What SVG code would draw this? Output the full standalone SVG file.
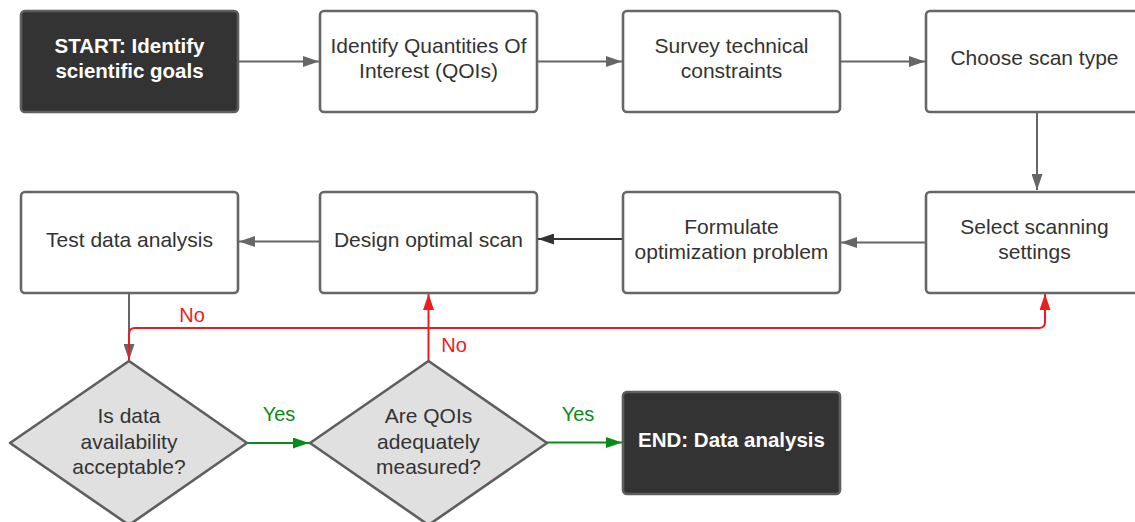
<svg xmlns="http://www.w3.org/2000/svg" width="1135" height="522" viewBox="0 0 1135 522">
<style>
.box{fill:#ffffff;stroke:#666666;stroke-width:2.6}
.dark{fill:#333333;stroke:#5e5e5e;stroke-width:2.6}
.dia{fill:#e0e0e0;stroke:#5e5e5e;stroke-width:2.6;stroke-linejoin:round}
.t{font-family:"Liberation Sans",Arial,sans-serif;font-size:21px;fill:#333333;text-anchor:middle}
.tb{font-family:"Liberation Sans",Arial,sans-serif;font-size:20.5px;font-weight:bold;fill:#ffffff;text-anchor:middle}
.lbl{font-family:"Liberation Sans",Arial,sans-serif;font-size:20px;text-anchor:middle}
.c{fill:none;stroke:#666666;stroke-width:2}
.cd{fill:none;stroke:#333333;stroke-width:2}
.cr{fill:none;stroke:#ee1c1c;stroke-width:2;stroke-linejoin:round}
.cg{fill:none;stroke:#0a8a17;stroke-width:2}
</style>
<defs>
<marker id="ag" viewBox="0 0 16 11" refX="16" refY="5.5" markerWidth="16" markerHeight="11" markerUnits="userSpaceOnUse" orient="auto"><path d="M0,0 L16,5.5 L0,11 Z" fill="#666666"/></marker>
<marker id="ad" viewBox="0 0 16 11" refX="16" refY="5.5" markerWidth="16" markerHeight="11" markerUnits="userSpaceOnUse" orient="auto"><path d="M0,0 L16,5.5 L0,11 Z" fill="#333333"/></marker>
<marker id="ar" viewBox="0 0 16 11" refX="16" refY="5.5" markerWidth="16" markerHeight="11" markerUnits="userSpaceOnUse" orient="auto"><path d="M0,0 L16,5.5 L0,11 Z" fill="#ee1c1c"/></marker>
<marker id="agr" viewBox="0 0 16 11" refX="16" refY="5.5" markerWidth="16" markerHeight="11" markerUnits="userSpaceOnUse" orient="auto"><path d="M0,0 L16,5.5 L0,11 Z" fill="#0a8a17"/></marker>
</defs>
<rect width="1135" height="522" fill="#ffffff"/>
<g id="connectors">
<path class="c" d="M238,61.5 L319,61.5" marker-end="url(#ag)"/>
<path class="c" d="M537,61.5 L622,61.5" marker-end="url(#ag)"/>
<path class="c" d="M840,61.5 L925,61.5" marker-end="url(#ag)"/>
<path class="c" d="M1037,112 L1037,190" marker-end="url(#ag)"/>
<path class="c" d="M926,242.5 L841,242.5" marker-end="url(#ag)"/>
<path class="cd" d="M623,239 L538,239" marker-end="url(#ad)"/>
<path class="c" d="M320,241.5 L239,241.5" marker-end="url(#ag)"/>
<path class="c" d="M129,293 L129,360" marker-end="url(#ag)"/>
<path class="cr" d="M129,361 L129,334 Q129,328 135,328 L1039,328 Q1045,328 1045,322 L1045,294" marker-end="url(#ar)"/>
<path class="cr" d="M428.5,361 L428.5,294" marker-end="url(#ar)"/>
<path class="cg" d="M247,443 L309,443" marker-end="url(#agr)"/>
<path class="cg" d="M547,442.5 L622,442.5" marker-end="url(#agr)"/>
<text class="lbl" x="192" y="322" fill="#ee1c1c">No</text>
<text class="lbl" x="454" y="352" fill="#ee1c1c">No</text>
<text class="lbl" x="279" y="421" fill="#0a8a17">Yes</text>
<text class="lbl" x="578" y="421" fill="#0a8a17">Yes</text>
</g>
<g id="start">
<rect class="dark" x="21" y="11" width="217" height="101" rx="4"/>
<text class="tb" x="129.5" y="53">START: Identify</text>
<text class="tb" x="129.5" y="78">scientific goals</text>
</g>
<g id="qois">
<rect class="box" x="320" y="11" width="217" height="101" rx="4"/>
<text class="t" x="428.5" y="53">Identify Quantities Of</text>
<text class="t" x="428.5" y="78">Interest (QOIs)</text>
</g>
<g id="survey">
<rect class="box" x="623" y="11" width="217" height="101" rx="4"/>
<text class="t" x="731.5" y="53">Survey technical</text>
<text class="t" x="731.5" y="78">constraints</text>
</g>
<g id="choose">
<rect class="box" x="926" y="11" width="217" height="101" rx="4"/>
<text class="t" x="1034.5" y="65">Choose scan type</text>
</g>
<g id="select">
<rect class="box" x="926" y="192" width="217" height="101" rx="4"/>
<text class="t" x="1034.5" y="234">Select scanning</text>
<text class="t" x="1034.5" y="259">settings</text>
</g>
<g id="formulate">
<rect class="box" x="623" y="192" width="217" height="101" rx="4"/>
<text class="t" x="731.5" y="234">Formulate</text>
<text class="t" x="731.5" y="259">optimization problem</text>
</g>
<g id="design">
<rect class="box" x="320" y="192" width="217" height="101" rx="4"/>
<text class="t" x="428.5" y="247">Design optimal scan</text>
</g>
<g id="test">
<rect class="box" x="21" y="192" width="217" height="101" rx="4"/>
<text class="t" x="129.5" y="247">Test data analysis</text>
</g>
<g id="decision-availability">
<path class="dia" d="M129,361 L247,443 L129,525 L10,443 Z"/>
<text class="t" x="129" y="423">Is data</text>
<text class="t" x="129" y="448.5">availability</text>
<text class="t" x="129" y="474">acceptable?</text>
</g>
<g id="decision-qois">
<path class="dia" d="M428.5,361 L547,443 L428.5,525 L310,443 Z"/>
<text class="t" x="428.5" y="423">Are QOIs</text>
<text class="t" x="428.5" y="448.5">adequately</text>
<text class="t" x="428.5" y="474">measured?</text>
</g>
<g id="end">
<rect class="dark" x="623" y="392" width="217" height="102" rx="4"/>
<text class="tb" x="731.5" y="447">END: Data analysis</text>
</g>
</svg>
